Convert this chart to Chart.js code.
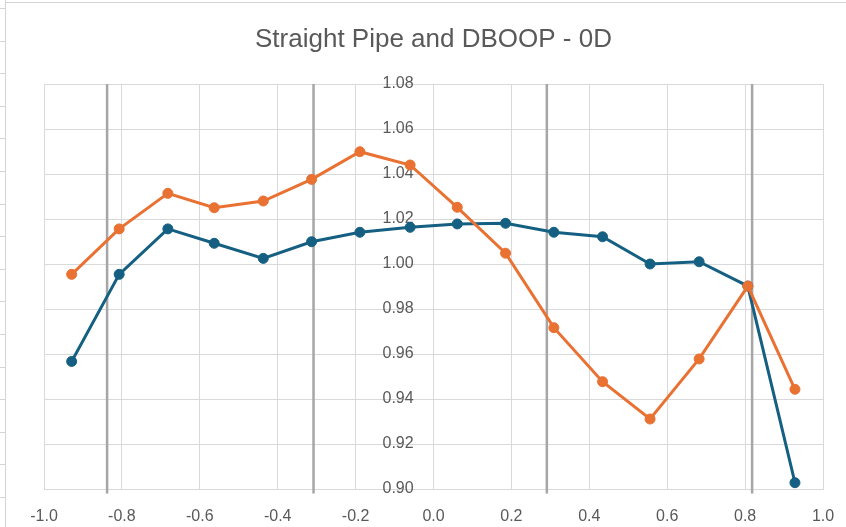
<!DOCTYPE html>
<html>
<head>
<meta charset="utf-8">
<script src="https://cdn.jsdelivr.net/npm/chart.js@4/dist/chart.umd.min.js"></script>
<style>
  html, body { margin: 0; padding: 0; background: #ffffff; }
  #wrap { position: relative; width: 846px; height: 527px; overflow: hidden; background: #ffffff; }
  #chart { position: absolute; left: 0; top: 0; }
  .sheet-top { position: absolute; left: 5px; top: 2px; width: 841px; height: 1px; background: #d4d4d4; }
  .sheet-left { position: absolute; left: 5px; top: 0; width: 1px; height: 527px; background: #d4d4d4; }
  .sheet-rows { position: absolute; left: 0; top: 8px; width: 5px; height: 519px;
    background: repeating-linear-gradient(to bottom, #d4d4d4 0px, #d4d4d4 1px, transparent 1px, transparent 32.6px); }
</style>
</head>
<body>
<div id="wrap">
  <canvas id="chart" width="846" height="527"></canvas>
  <div class="sheet-top"></div>
  <div class="sheet-left"></div>
  <div class="sheet-rows"></div>
</div>
<script>
// Radial positions (r/R) of the measurement points
const positions = [-0.929, -0.807, -0.682, -0.563, -0.437, -0.313, -0.189, -0.060,
                    0.061, 0.185, 0.309, 0.434, 0.556, 0.682, 0.807, 0.928];

// Normalised velocity profiles
const straightPipe = [0.9567, 0.9954, 1.0156, 1.0092, 1.0025, 1.0099, 1.0141, 1.0163,
                      1.0178, 1.0181, 1.0141, 1.0121, 1.0000, 1.0010, 0.9902, 0.9028];
const dboop = [0.9954, 1.0156, 1.0314, 1.0250, 1.0280, 1.0376, 1.0499, 1.0440,
               1.0252, 1.0048, 0.9717, 0.9477, 0.9311, 0.9578, 0.9902, 0.9443];

// Vertical reference lines and their vertical extent
const guidePositions = [-0.838, -0.308, 0.291, 0.818];
const guideRange = [0.898, 1.08];

// Axis ticks
const xTicks = [-1.0, -0.8, -0.6, -0.4, -0.2, 0.0, 0.2, 0.4, 0.6, 0.8, 1.0];
const yTicks = [0.90, 0.92, 0.94, 0.96, 0.98, 1.00, 1.02, 1.04, 1.06, 1.08];

const BLUE = '#156082';
const ORANGE = '#E97132';
const GRID = '#d9d9d9';
const TEXT = '#595959';
const FONT = "'Liberation Sans', Arial, sans-serif";

const toPoints = (xs, ys) => xs.map((x, i) => ({ x: x, y: ys[i] }));

const seriesStyle = (color) => ({
  borderColor: color,
  backgroundColor: color,
  pointBackgroundColor: color,
  pointBorderColor: color,
  borderWidth: 3,
  pointRadius: 5,
  pointHoverRadius: 5,
  pointBorderWidth: 1,
  showLine: true,
  tension: 0
});

const datasets = [
  Object.assign({ label: 'DBOOP', data: toPoints(positions, dboop) }, seriesStyle(ORANGE)),
  Object.assign({ label: 'Straight Pipe', data: toPoints(positions, straightPipe) }, seriesStyle(BLUE))
];
guidePositions.forEach((gx, i) => {
  datasets.push({
    label: 'guide ' + (i + 1),
    data: guideRange.map(gy => ({ x: gx, y: gy })),
    borderColor: '#a6a6a6',
    borderWidth: 2.5,
    pointRadius: 0,
    showLine: true,
    clip: false
  });
});

new Chart(document.getElementById('chart'), {
  type: 'scatter',
  data: { datasets: datasets },
  options: {
    responsive: false,
    animation: false,
    devicePixelRatio: 1,
    layout: { padding: { left: 44, right: 23, top: 0, bottom: 0 } },
    plugins: {
      legend: { display: false },
      tooltip: { enabled: false },
      title: {
        display: true,
        text: 'Straight Pipe and DBOOP - 0D',
        color: TEXT,
        font: { family: FONT, size: 26, weight: 'normal', lineHeight: 1.2 },
        padding: { top: 24.4, bottom: 28.4 }
      }
    },
    scales: {
      x: {
        type: 'linear',
        min: xTicks[0],
        max: xTicks[xTicks.length - 1],
        afterBuildTicks: (scale) => { scale.ticks = xTicks.map(v => ({ value: v })); },
        afterFit: (scale) => {
          scale.height = 38;
          scale.paddingLeft = 0;
          scale.paddingRight = 0;
        },
        ticks: {
          color: TEXT,
          font: { family: FONT, size: 16 },
          padding: 18,
          maxRotation: 0,
          autoSkip: false,
          callback: (v) => Number(v).toFixed(1)
        },
        grid: { color: GRID, lineWidth: 1, drawTicks: false },
        border: { color: GRID, width: 1 }
      },
      y: {
        type: 'linear',
        // labels sit just left of the vertical gridline at x = 0
        position: { x: -0.051 },
        min: yTicks[0],
        max: yTicks[yTicks.length - 1],
        afterBuildTicks: (scale) => { scale.ticks = yTicks.map(v => ({ value: v })); },
        ticks: {
          color: TEXT,
          font: { family: FONT, size: 16 },
          padding: 0,
          autoSkip: false,
          callback: (v) => Number(v).toFixed(2)
        },
        grid: { color: GRID, lineWidth: 1, drawTicks: false },
        border: { display: false }
      }
    }
  }
});
</script>
</body>
</html>
